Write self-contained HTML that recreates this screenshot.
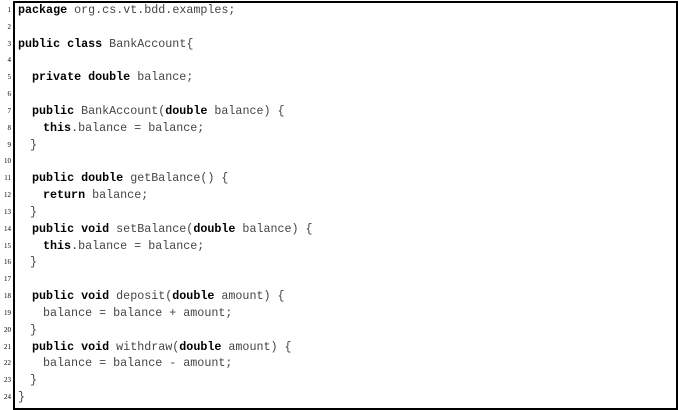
<!DOCTYPE html>
<html><head><meta charset="utf-8"><style>
body{margin:0;background:#fff;width:678px;height:410px;position:relative;overflow:hidden}
.box{position:absolute;left:13px;top:1px;width:661px;height:405px;border:2px solid #000}
.l{position:absolute;left:18px;height:17px;line-height:17px;font-family:"Liberation Mono",monospace;font-size:11.7px;color:#444;white-space:pre}
.l b{color:#000}
.n{position:absolute;left:0;width:11px;text-align:right;height:17px;line-height:17px;font-family:"Liberation Serif",serif;font-size:7px;color:#000}
</style></head><body>
<div class="box"></div>
<div id="c"></div>
<script>
var L=[
[0,'<b>package</b> org.cs.vt.bdd.examples;'],
[0,''],
[0,'<b>public class</b> BankAccount{'],
[0,''],
[14,'<b>private double</b> balance;'],
[0,''],
[14,'<b>public</b> BankAccount(<b>double</b> balance) {'],
[25,'<b>this</b>.balance = balance;'],
[12,'}'],
[0,''],
[14,'<b>public double</b> getBalance() {'],
[25,'<b>return</b> balance;'],
[12,'}'],
[14,'<b>public void</b> setBalance(<b>double</b> balance) {'],
[25,'<b>this</b>.balance = balance;'],
[12,'}'],
[0,''],
[14,'<b>public void</b> deposit(<b>double</b> amount) {'],
[25,'balance = balance + amount;'],
[12,'}'],
[14,'<b>public void</b> withdraw(<b>double</b> amount) {'],
[25,'balance = balance - amount;'],
[12,'}'],
[0,'}']];
var h='';
for(var i=0;i<L.length;i++){var t=2+i*16.83;
h+='<div class="n" style="top:'+t+'px">'+(i+1)+'</div>';
h+='<div class="l" style="top:'+t+'px;left:'+(18+L[i][0])+'px">'+L[i][1]+'</div>';}
document.getElementById('c').innerHTML=h;
</script>
</body></html>
